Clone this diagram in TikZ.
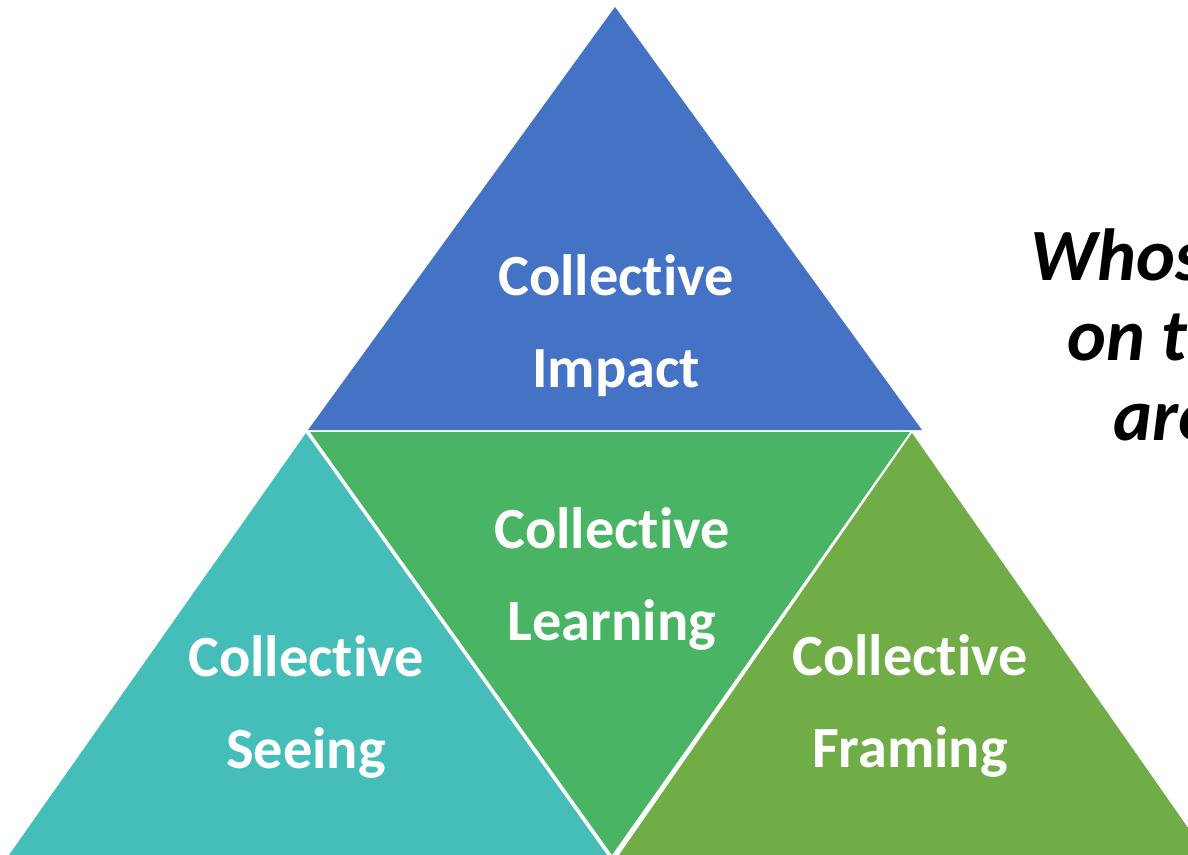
\documentclass[tikz,border=0pt]{standalone}
\usepackage{fontspec}
\setmainfont{Carlito}[Ligatures=NoCommon]
\usepackage{tikz}
\definecolor{impactblue}{HTML}{4472C4}
\definecolor{seeingteal}{HTML}{45BDB8}
\definecolor{learninggreen}{HTML}{48B464}
\definecolor{framingolive}{HTML}{70AD47}
\tikzset{x=0.02cm, y=-0.02cm,
  part/.style={text=white, font=\bfseries\fontsize{33.2}{52.3}\selectfont, align=center, anchor=base, inner sep=0pt},
  question/.style={font=\bfseries\itshape\fontsize{42}{45.5}\selectfont, anchor=base west, inner sep=0pt}}

\begin{document}
\begin{tikzpicture}
  \clip (0,0) rectangle (1188,855);
  \fill[white] (0,0) rectangle (1188,855);
  % the four triangles
  \fill[impactblue]    (615,7) -- (922,430) -- (308,430) -- cycle;
  \fill[seeingteal]    (306,433) -- (607,855) -- (9,855) -- cycle;
  \fill[learninggreen] (310,432) -- (910,432) -- (612,855) -- cycle;
  \fill[framingolive]  (912,433) -- (1207,855) -- (619,855) -- cycle;
  % labels (anchored at the baseline of the second line)
  \node[part] (impact)   at (616,387) {Collective\\Impact};
  \node[part] (seeing)   at (306,768) {Collective\\Seeing};
  \node[part] (learning) at (612,640) {Collective\\Learning};
  \node[part] (framing)  at (910,767) {Collective\\Framing};
  % question on the right
  \node[question] (q1) at (1030,280) {Whos};
  \node[question] (q2) at (1067,360) {on t};
  \node[question] (q3) at (1113,440) {are};
\end{tikzpicture}
\end{document}
